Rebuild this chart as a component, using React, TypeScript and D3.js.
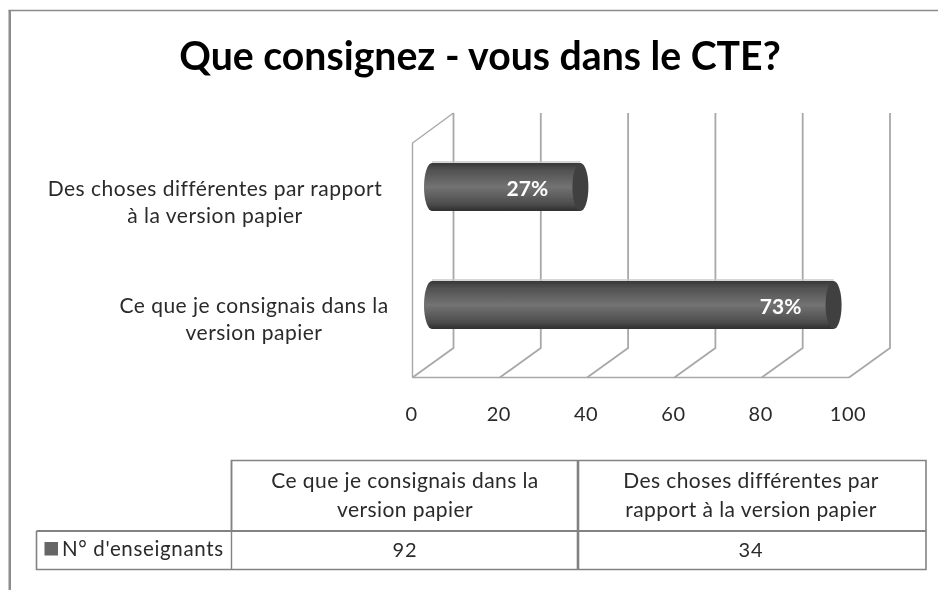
import React from "react";
import * as d3 from "d3";

const categories = ["Ce que je consignais dans la version papier", "Des choses différentes par rapport à la version papier"];
const axisLabels = [["Ce que je consignais dans la", "version papier"], ["Des choses différentes par rapport", "à la version papier"]];
const tableHeaders = [["Ce que je consignais dans la", "version papier"], ["Des choses différentes  par", "rapport à la version papier"]];
const seriesName = "N° d'enseignants";
const values = [92, 34];
const percentLabels = ["73%", "27%"];
const ticks = [0, 20, 40, 60, 80, 100];
const title = "Que consignez - vous dans le CTE?";

const FONT = "Lato, 'Open Sans', sans-serif";
const W = 938, H = 590;
const x = d3.scaleLinear().domain([0, 100]).range([412.5, 849]);
const y = d3.scaleBand().domain(categories).range([364, 128]);
const depth = { dx: 41, dy: -30 };
const barHalf = 24, rx = 8;
const labelX = [254, 215];
const columnX = [405, 751];
const textFill = "#2a2a2a";

export default function App() {
  const grid = "#a8a8a8";
  const bandY = (c: string) => (y(c) as number) + y.bandwidth() / 2;
  return (
    <svg width={W} height={H} style={{ position: "absolute", left: 0, top: 0 }} fontFamily={FONT}>
      <defs>
        <linearGradient id="cyl" x1="0" x2="0" y1="0" y2="1">
          <stop offset="0" stopColor="#383838" />
          <stop offset="0.14" stopColor="#505050" />
          <stop offset="0.5" stopColor="#737373" />
          <stop offset="0.86" stopColor="#4c4c4c" />
          <stop offset="1" stopColor="#2e2e2e" />
        </linearGradient>
        <filter id="soft" x="-5%" y="-5%" width="110%" height="110%">
          <feGaussianBlur stdDeviation="0.45" />
        </filter>
      </defs>
      <rect width={W} height={H} fill="#fff" />
      <line x1={8.5} x2={938} y1={10.5} y2={10.5} stroke="#8c8c8c" strokeWidth={1.5} />
      <line x1={9.75} x2={9.75} y1={10} y2={590} stroke="#8c8c8c" strokeWidth={2.5} />

      <g filter="url(#soft)">
        <text x={480} y={70} textAnchor="middle" fontSize={39.2} fontWeight={700} fill="#000">{title}</text>

        {/* 3D walls */}
        <path d={`M${x(0)} 377.5V143L${x(0) + depth.dx} 113`} fill="none" stroke={grid} strokeWidth={1.4} />
        {ticks.map((t) => (
          <path key={t} d={`M${x(t)} 377.5L${x(t) + depth.dx} 348V113`} fill="none" stroke={grid} strokeWidth={1.8} />
        ))}
        <line x1={x(0)} x2={x(100)} y1={377.5} y2={377.5} stroke={grid} strokeWidth={1.6} />
        {ticks.map((t) => (
          <text key={t} x={x(t) - 1} y={421} textAnchor="middle" fontSize={20} fill={textFill} letterSpacing={0.5}>{t}</text>
        ))}

        {/* Cylinders */}
        {categories.map((c, i) => {
          const cy = bandY(c);
          const x0 = x(0) + depth.dx / 2 - 1;
          const x1 = x0 + (x(values[i]) - x(0));
          return (
            <g key={c}>
              <line x1={x0} x2={x1} y1={cy - barHalf - 1} y2={cy - barHalf - 1} stroke="#c8c8c8" strokeWidth={1.5} />
              <path
                d={`M${x0} ${cy - barHalf}H${x1}V${cy + barHalf}H${x0}A${rx} ${barHalf} 0 0 1 ${x0} ${cy - barHalf}Z`}
                fill="url(#cyl)"
              />
              <ellipse cx={x1} cy={cy} rx={rx} ry={barHalf} fill="#3f3f3f" />
              <text x={x1 - 53} y={cy + 9} textAnchor="middle" fontSize={21} fontWeight={700} fill="#fff">{percentLabels[i]}</text>
            </g>
          );
        })}

        {/* Category labels */}
        {axisLabels.map((lines, i) =>
          lines.map((l, j) => (
            <text key={l} x={labelX[i]} y={bandY(categories[i]) + (i === 0 ? 8 : 9) + j * 27} textAnchor="middle" fontSize={21} fill={textFill} letterSpacing={0.48}>{l}</text>
          ))
        )}

        {/* Data table */}
        <g fill="none" stroke="#828282">
          <path d="M231.5 531V460.5H926V569.5H36.5V531" strokeWidth={1.6} />
          <path d="M36.5 531H926" strokeWidth={2} />
          <path d="M231.5 460V570" strokeWidth={1.4} />
          <path d="M578 460V570" strokeWidth={2.6} />
        </g>
        {tableHeaders.map((lines, i) =>
          lines.map((l, j) => (
            <text key={l} x={columnX[i]} y={488 + j * 29} textAnchor="middle" fontSize={21} fill={textFill} letterSpacing={0.42}>{l}</text>
          ))
        )}
        <rect x={44.5} y={542} width={13.5} height={13.5} fill="#666" />
        <text x={62} y={556} fontSize={20.5} fill={textFill} letterSpacing={0.65}>{seriesName}</text>
        {values.map((v, i) => (
          <text key={v} x={columnX[i]} y={557} textAnchor="middle" fontSize={20} fill={textFill} letterSpacing={0.8}>{v}</text>
        ))}
      </g>
    </svg>
  );
}
